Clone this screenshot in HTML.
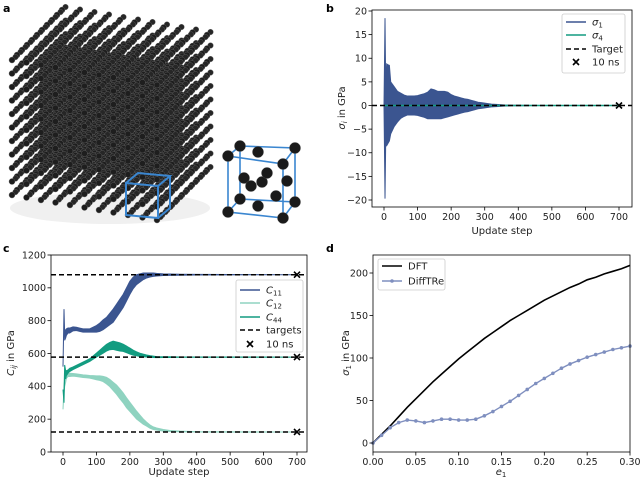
<!DOCTYPE html>
<html><head><meta charset="utf-8"><style>
html,body{margin:0;padding:0;background:#fff}
svg{display:block;font-family:"DejaVu Sans","Liberation Sans",sans-serif}
</style></head><body>
<svg id="fig" width="640" height="481" viewBox="0 0 640 481" xmlns="http://www.w3.org/2000/svg">
<g id="pa"></g>
<text x="3" y="12" font-size="11" font-weight="bold">a</text>
<text x="326" y="12" font-size="11" font-weight="bold">b</text>
<text x="3" y="252" font-size="11" font-weight="bold">c</text>
<text x="326" y="252" font-size="11" font-weight="bold">d</text>
<g id="pb"></g>
<g id="pc"></g>
<g id="pd"></g>
</svg>
<script>
// ---- panel b data ----
const bSteps=[0,3,5,8,12,16,20,30,40,50,60,70,80,90,100,110,120,130,140,150,160,170,180,190,200,210,220,230,240,250,260,270,280,290,300,320,340,360,380,400,450,500,700];
const bUpper=[0,18.5,5,8.8,8.6,8.5,5,4,3,2.6,2.2,2,2,2,2.1,2.3,2.5,2.8,3.5,3.3,3,3,3,2.8,2.3,2,1.8,1.6,1.4,1.3,1.1,0.9,0.7,0.6,0.5,0.3,0.2,0.1,0.05,0.05,0,0,0];
const bLower=[0,-19.7,-8,-8.5,-8,-7.5,-6,-4.5,-3.5,-2.7,-2.3,-2,-2,-2,-2.1,-2.3,-2.5,-2.8,-2.8,-2.8,-2.8,-2.8,-2.6,-2.4,-2.2,-2,-1.8,-1.6,-1.4,-1.3,-1.1,-0.9,-0.7,-0.6,-0.5,-0.3,-0.2,-0.1,-0.05,-0.05,0,0,0];
const bYTicks=[-20,-15,-10,-5,0,5,10,15,20];
const stepTicks=[0,100,200,300,400,500,600,700];
const bTarget=[0];
// ---- panel c data ----
const cSteps=[0,3,5,8,10,15,20,30,40,50,60,70,80,90,100,110,120,130,140,150,160,170,180,190,200,210,220,230,240,250,260,270,280,300,320,350,400,500,700];
const c11=[520,860,700,720,730,740,740,750,750,745,740,740,740,745,750,760,775,790,810,830,860,890,920,960,1000,1030,1050,1060,1070,1075,1078,1080,1080,1080,1080,1080,1080,1080,1080];
const c11hw=[0,10,20,25,20,15,15,12,10,10,10,10,10,15,20,25,30,30,35,40,40,40,40,40,40,35,30,25,20,15,12,10,8,5,4,3,2,1,0];
const c12=[260,380,420,440,460,470,470,470,468,465,462,460,458,455,452,450,445,435,420,400,380,355,330,300,275,250,225,205,185,170,155,145,140,132,128,125,123,122,122];
const c12hw=[0,20,20,15,12,10,10,8,8,8,8,8,8,10,12,14,16,20,22,25,28,30,30,30,28,26,24,20,16,12,10,8,6,5,3,2,1,1,0];
const c44=[380,330,500,470,480,490,500,510,520,530,540,550,560,575,590,605,620,635,645,650,645,640,635,625,615,605,598,592,588,585,582,580,578,578,578,578,578,578,578];
const c44hw=[0,30,30,25,15,10,10,8,8,8,8,8,8,10,12,15,18,20,22,25,25,25,22,20,18,15,12,10,8,6,5,4,3,2,2,1,1,1,0];
const cTargets=[1080,578,122];
const cYTicks=[0,200,400,600,800,1000,1200];
// ---- panel d data ----
const strain=[0,0.01,0.02,0.03,0.04,0.05,0.06,0.07,0.08,0.09,0.1,0.11,0.12,0.13,0.14,0.15,0.16,0.17,0.18,0.19,0.2,0.21,0.22,0.23,0.24,0.25,0.26,0.27,0.28,0.29,0.3];
const dft=[0,10,20,31,42,52,62,72,81,90,99,107,115,123,130,137,144,150,156,162,168,173,178,183,187,192,195,199,202,205,209];
const difftre=[0,9,18,24,27,26,24,26,28,28,27,27,28,32,37,43,49,56,63,70,76,82,88,93,97,101,104,107,110,112,114];
const dXTicks=[0,0.05,0.1,0.15,0.2,0.25,0.3];
const dYTicks=[0,50,100,150,200];

const NS="http://www.w3.org/2000/svg";
function mk(parent,tag,attrs,name,text){
  const e=document.createElementNS(NS,tag);
  for(const k in attrs)e.setAttribute(k,attrs[k]);
  
  
  if(text!==undefined)e.textContent=text;
  parent.appendChild(e);return e;
}
function lin(d0,d1,p0,p1){return v=>p0+(v-d0)*(p1-p0)/(d1-d0);}
function fmt(v){return String(v).replace('-','\u2212');}
function axes(g,box,xs,ys,xt,yt,xfmt,yfmt){
  mk(g,'rect',{x:box[0],y:box[1],width:box[2]-box[0],height:box[3]-box[1],fill:'none',stroke:'#000','stroke-width':0.8},'plot-frame');
  xt.forEach(v=>{const x=xs(v);
    mk(g,'line',{x1:x,x2:x,y1:box[3],y2:box[3]+3.5,stroke:'#000','stroke-width':0.8},'x-tick');
    mk(g,'text',{x:x,y:box[3]+13,'font-size':9.5,'text-anchor':'middle',fill:'#222'},'x-tick-label',xfmt(v));});
  yt.forEach(v=>{const y=ys(v);
    mk(g,'line',{x1:box[0]-3.5,x2:box[0],y1:y,y2:y,stroke:'#000','stroke-width':0.8},'y-tick');
    mk(g,'text',{x:box[0]-5,y:y+3.4,'font-size':9.5,'text-anchor':'end',fill:'#222'},'y-tick-label',yfmt(v));});
}
function band(g,xs,ys,X,c,h,color,name){
  let p='';
  X.forEach((x,i)=>{p+=(i?'L':'M')+xs(x).toFixed(2)+','+ys(c[i]+h[i]).toFixed(2);});
  for(let i=X.length-1;i>=0;i--)p+='L'+xs(X[i]).toFixed(2)+','+ys(c[i]-h[i]).toFixed(2);
  mk(g,'path',{d:p+'Z',fill:color,stroke:color,'stroke-width':1},name);
}
function line(g,xs,ys,X,Y,color,w,name){
  const p=X.map((x,i)=>(i?'L':'M')+xs(x).toFixed(2)+','+ys(Y[i]).toFixed(2)).join('');
  return mk(g,'path',{d:p,fill:'none',stroke:color,'stroke-width':w},name);
}
function xmark(g,x,y,name){
  mk(g,'path',{d:`M${x-3},${y-3}L${x+3},${y+3}M${x-3},${y+3}L${x+3},${y-3}`,stroke:'#000','stroke-width':1.6},name);
}
const BLUE='#3b5590',MINT='#8fd3c0',TEAL='#139c80';

// ---- panel b ----
(function(){
  const g=document.getElementById('pb');
  const box=[372,10,632,207];
  const xs=lin(0,700,384,619), ys=lin(-20,20,200,11);
  band(g,xs,ys,bSteps,bSteps.map((s,i)=>(bUpper[i]+bLower[i])/2),bSteps.map((s,i)=>(bUpper[i]-bLower[i])/2),BLUE,'sigma1-series');
  mk(g,'line',{x1:xs(0),x2:xs(700),y1:ys(0),y2:ys(0),stroke:TEAL,'stroke-width':1.5},'sigma4-series');
  bTarget.forEach(t=>mk(g,'line',{x1:box[0],x2:box[2],y1:ys(t),y2:ys(t),stroke:'#000','stroke-width':1.5,'stroke-dasharray':'5,3'},'target-line'));
  xmark(g,xs(700),ys(0),'10ns-marker');
  axes(g,box,xs,ys,stepTicks,bYTicks,fmt,fmt);
  mk(g,'text',{x:502,y:234,'font-size':10,'text-anchor':'middle',fill:'#222'},'x-axis-title','Update step');
  const yl=mk(g,'text',{x:0,y:0,'font-size':10,'text-anchor':'middle',fill:'#222',transform:'translate(345,108) rotate(-90)'},'y-axis-title');
  yl.innerHTML='<tspan font-style="italic">σ</tspan><tspan font-size="7" dy="2" font-style="italic">i</tspan><tspan dy="-2"> in GPa</tspan>';
  const L=mk(g,'g',{},'legend');
  mk(L,'rect',{x:562,y:14,width:63,height:59,rx:2,fill:'#fff',stroke:'#ccc','stroke-width':0.8},'legend-box');
  const ent=[[22,BLUE,'σ','1'],[35,TEAL,'σ','4']];
  ent.forEach(e=>{mk(L,'line',{x1:566,x2:586,y1:e[0],y2:e[0],stroke:e[1],'stroke-width':1.5},'legend-swatch');
    const t=mk(L,'text',{x:592,y:e[0]+3.5,'font-size':10,fill:'#222','font-style':'italic'},'legend-entry');
    t.innerHTML=e[2]+'<tspan font-size="7" dy="2" font-style="normal">'+e[3]+'</tspan>';});
  mk(L,'line',{x1:566,x2:586,y1:49,y2:49,stroke:'#000','stroke-width':1.5,'stroke-dasharray':'5,3'},'legend-swatch');
  mk(L,'text',{x:592,y:52.5,'font-size':10,fill:'#222'},'legend-entry','Target');
  xmark(L,576,62,'legend-marker');
  mk(L,'text',{x:592,y:65.5,'font-size':10,fill:'#222'},'legend-entry','10 ns');
})();

// ---- panel c ----
(function(){
  const g=document.getElementById('pc');
  const box=[51,255,307,452];
  const xs=lin(0,700,63,297), ys=lin(0,1200,452,255);
  band(g,xs,ys,cSteps,c12,c12hw,MINT,'c12-series');
  band(g,xs,ys,cSteps,c44,c44hw,TEAL,'c44-series');
  band(g,xs,ys,cSteps,c11,c11hw,BLUE,'c11-series');
  cTargets.forEach(t=>{mk(g,'line',{x1:box[0],x2:box[2],y1:ys(t),y2:ys(t),stroke:'#000','stroke-width':1.5,'stroke-dasharray':'5,3'},'target-line');
    xmark(g,xs(700),ys(t),'10ns-marker');});
  axes(g,box,xs,ys,stepTicks,cYTicks,fmt,fmt);
  mk(g,'text',{x:179,y:475,'font-size':10,'text-anchor':'middle',fill:'#222'},'x-axis-title','Update step');
  const yl=mk(g,'text',{x:0,y:0,'font-size':10,'text-anchor':'middle',fill:'#222',transform:'translate(14,353) rotate(-90)'},'y-axis-title');
  yl.innerHTML='<tspan font-style="italic">C</tspan><tspan font-size="7" dy="2" font-style="italic">ij</tspan><tspan dy="-2"> in GPa</tspan>';
  const L=mk(g,'g',{},'legend');
  mk(L,'rect',{x:236,y:280,width:67,height:72,rx:2,fill:'#fff',stroke:'#ccc','stroke-width':0.8},'legend-box');
  [[290,BLUE,'11'],[303,MINT,'12'],[317,TEAL,'44']].forEach(e=>{
    mk(L,'line',{x1:240,x2:260,y1:e[0],y2:e[0],stroke:e[1],'stroke-width':1.5},'legend-swatch');
    const t=mk(L,'text',{x:266,y:e[0]+3.5,'font-size':10,fill:'#222','font-style':'italic'},'legend-entry');
    t.innerHTML='C<tspan font-size="7" dy="2" font-style="normal">'+e[2]+'</tspan>';});
  mk(L,'line',{x1:240,x2:260,y1:330,y2:330,stroke:'#000','stroke-width':1.5,'stroke-dasharray':'5,3'},'legend-swatch');
  mk(L,'text',{x:266,y:333.5,'font-size':10,fill:'#222'},'legend-entry','targets');
  xmark(L,250,344,'legend-marker');
  mk(L,'text',{x:266,y:347.5,'font-size':10,fill:'#222'},'legend-entry','10 ns');
})();

// ---- panel d ----
(function(){
  const g=document.getElementById('pd');
  const box=[373,255,630,452];
  const xs=lin(0,0.3,373,630), ys=lin(0,200,443,273);
  line(g,xs,ys,strain,dft,'#000',1.6,'dft-series');
  line(g,xs,ys,strain,difftre,'#7f8fbf',1.4,'difftre-series');
  strain.forEach((s,i)=>mk(g,'circle',{cx:xs(s),cy:ys(difftre[i]),r:1.8,fill:'#7f8fbf'},'difftre-point'));
  axes(g,box,xs,ys,dXTicks,dYTicks,v=>v.toFixed(2),fmt);
  const xl=mk(g,'text',{x:501,y:475,'font-size':10,'text-anchor':'middle',fill:'#222','font-style':'italic'},'x-axis-title');
  xl.innerHTML='e<tspan font-size="7" dy="2" font-style="normal">1</tspan>';
  const yl=mk(g,'text',{x:0,y:0,'font-size':10,'text-anchor':'middle',fill:'#222',transform:'translate(349,353) rotate(-90)'},'y-axis-title');
  yl.innerHTML='<tspan font-style="italic">σ</tspan><tspan font-size="7" dy="2">1</tspan><tspan dy="-2"> in GPa</tspan>';
  const L=mk(g,'g',{},'legend');
  mk(L,'rect',{x:378,y:259,width:67,height:31,rx:2,fill:'#fff',stroke:'#ccc','stroke-width':0.8},'legend-box');
  mk(L,'line',{x1:382,x2:402,y1:266,y2:266,stroke:'#000','stroke-width':1.5},'legend-swatch');
  mk(L,'text',{x:408,y:269.5,'font-size':10,fill:'#222'},'legend-entry','DFT');
  mk(L,'line',{x1:382,x2:402,y1:281,y2:281,stroke:'#7f8fbf','stroke-width':1.5},'legend-swatch');
  mk(L,'circle',{cx:392,cy:281,r:1.8,fill:'#7f8fbf'},'legend-marker');
  mk(L,'text',{x:408,y:284.5,'font-size':10,fill:'#222'},'legend-entry','DiffTRe');
})();

// ---- panel a: lattice illustration ----
(function(){
  const g=document.getElementById('pa');
  mk(g,'ellipse',{cx:110,cy:208,rx:100,ry:16,fill:'#f0f0f0'},'lattice-shadow');
  const N=10,o=[12,60],u=[14.5,2.5],w=[5,-5],v=[0,13.5];
  const pts=[];
  for(let i=0;i<=N;i++)for(let j=0;j<=N;j++)for(let k=0;k<=N;k++)pts.push([i,j,k]);
  pts.sort((a,b)=>(b[2]-a[2])||(a[1]-b[1])||(a[0]-b[0]));
  pts.forEach(p=>{const x=o[0]+p[0]*u[0]+p[2]*w[0]+p[1]*v[0], y=o[1]+p[0]*u[1]+p[2]*w[1]+p[1]*v[1];
    mk(g,'circle',{cx:(x+3.5).toFixed(1),cy:(y-3).toFixed(1),r:2.8,fill:'#262626',stroke:'#666','stroke-width':0.4},'atom');
    mk(g,'circle',{cx:x.toFixed(1),cy:y.toFixed(1),r:3,fill:'#1e1e1e',stroke:'#666','stroke-width':0.4},'atom');});
  const b='#3a86d0';
  mk(g,'path',{d:'M126,183L158,186L158,218L126,215ZM126,183L138,173L170,176L158,186M170,176L170,208L158,218',fill:'none',stroke:b,'stroke-width':2},'unit-cell-highlight');
  const uc=mk(g,'g',{},'unit-cell-zoom');
  mk(uc,'path',{d:'M228,156L283,164L283,218L228,212ZM228,156L240,146L295,148L283,164M295,148L295,202L283,218M240,146L240,199L228,212M240,199L295,202',fill:'none',stroke:b,'stroke-width':1.6},'unit-cell-frame');
  [[240,146],[295,148],[228,156],[283,164],[258,152],[262,182],[244,178],[267,173],[287,181],[251,186],[276,196],[240,199],[295,202],[228,212],[283,218],[258,206]].forEach(c=>
    mk(uc,'circle',{cx:c[0],cy:c[1],r:5.5,fill:'#1a1a1a',stroke:'#444','stroke-width':0.5},'unit-cell-atom'));
})();
</script>
</body></html>
